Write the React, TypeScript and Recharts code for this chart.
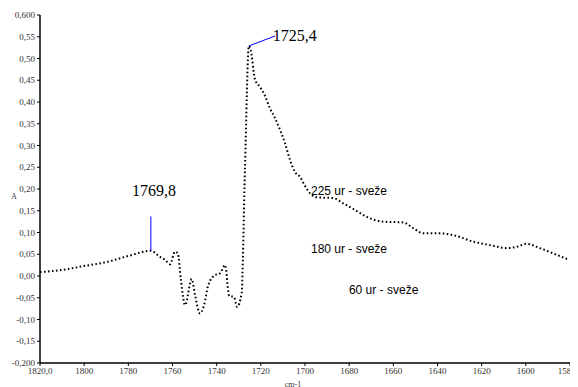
import { LineChart, Line, XAxis, YAxis, ReferenceLine, ReferenceDot } from 'recharts'

const wavenumbers = [
  1820, 1810, 1800, 1790, 1780, 1769.8, 1765.7, 1763.4, 1761.1, 1758.9, 1757.6, 1756.2, 1754.3,
  1751.3, 1749.8, 1747.6, 1745.7, 1743.8, 1740.8, 1738.5, 1736.2, 1734.3, 1732.2, 1730.7, 1728.7,
  1727.2, 1725.4, 1724.6, 1722.6, 1720.4, 1718.1, 1715.9, 1713.6, 1711.3, 1709.1, 1706.8, 1704.5,
  1702.3, 1700, 1697.7, 1694.7, 1687.2, 1682.7, 1677.4, 1672.1, 1664.6, 1655.5, 1651, 1646.4,
  1638.9, 1632.9, 1623.8, 1616.2, 1608.7, 1604.2, 1599.6, 1593.6, 1587.6, 1580.8,
]

const absorbance = [
  0.009, 0.014, 0.023, 0.032, 0.046, 0.058, 0.044, 0.037, 0.027, 0.056, 0.052, -0.009, -0.067,
  -0.007, -0.044, -0.086, -0.067, -0.021, 0.002, 0.006, 0.025, -0.046, -0.048, -0.071, -0.039,
  0.244, 0.529, 0.52, 0.451, 0.435, 0.414, 0.386, 0.363, 0.336, 0.306, 0.267, 0.239,
  0.228, 0.207, 0.19, 0.181, 0.179, 0.167, 0.152, 0.136, 0.125, 0.123, 0.11, 0.098,
  0.098, 0.094, 0.079, 0.071, 0.064, 0.067, 0.074, 0.064, 0.052, 0.038,
]

const xTicks = [1820, 1800, 1780, 1760, 1740, 1720, 1700, 1680, 1660, 1640, 1620, 1600, 1580]
const yTicks = [-0.2, -0.15, -0.1, -0.05, 0, 0.05, 0.1, 0.15, 0.2, 0.25, 0.3, 0.35, 0.4, 0.45, 0.5, 0.55, 0.6]

const sampleLabels = [
  { text: '225 ur - sveže', x: 1697.3, y: 0.195 },
  { text: '180 ur - sveže', x: 1697.3, y: 0.062 },
  { text: '60 ur - sveže', x: 1680.1, y: -0.032 },
]

const data = wavenumbers.map((w, i) => ({ w, a: absorbance[i] }))

const serif = '"Liberation Serif", "Times New Roman", serif'
const sans = '"Liberation Sans", Arial, sans-serif'

const fmtX = (v: number) => (v === 1820 || v === 1580 ? v.toFixed(1).replace('.', ',') : String(v))
const fmtY = (v: number) =>
  (v === 0.6 || v === -0.2 ? v.toFixed(3) : v.toFixed(2)).replace('.', ',')

export default function App() {
  return (
    <div style={{ position: 'relative', width: 570, height: 379, fontFamily: serif }}>
      <LineChart
        width={570}
        height={379}
        data={data}
        margin={{ top: 7, right: 8, bottom: 4, left: 0 }}
        style={{ overflow: 'visible', fontFamily: serif }}
      >
        <XAxis
          dataKey="w"
          type="number"
          domain={[1580, 1820]}
          reversed
          ticks={xTicks}
          tickFormatter={fmtX}
          interval={0}
          height={20}
          tickSize={3}
          axisLine={{ stroke: '#000', strokeWidth: 1.5 }}
          tickLine={{ stroke: '#000' }}
          tick={{ fontFamily: serif, fontSize: 9, fill: '#333' }}
          label={{ value: 'cm-1', position: 'insideBottom', offset: -4, dx: -12, fontFamily: serif, fontSize: 8, fill: '#333' }}
        />
        <YAxis
          type="number"
          domain={[-0.2, 0.6]}
          ticks={yTicks}
          tickFormatter={fmtY}
          interval={0}
          width={32}
          tickSize={3}
          axisLine={{ stroke: '#000', strokeWidth: 1.5 }}
          tickLine={{ stroke: '#000' }}
          tick={{ fontFamily: serif, fontSize: 9, fill: '#333' }}
          label={{ value: 'A', position: 'insideLeft', angle: 0, offset: 0, dx: 3, dy: 7, fontFamily: serif, fontSize: 8, fill: '#333' }}
        />
        <Line
          dataKey="a"
          type="monotone"
          stroke="#000"
          strokeWidth={2}
          strokeDasharray="1.6 2.4"
          dot={false}
          isAnimationActive={false}
        />
        <ReferenceLine
          segment={[{ x: 1769.8, y: 0.058 }, { x: 1769.8, y: 0.137 }]}
          stroke="#0000ff"
          strokeWidth={1}
        />
        <ReferenceLine
          segment={[{ x: 1725.4, y: 0.529 }, { x: 1713.4, y: 0.552 }]}
          stroke="#0000ff"
          strokeWidth={1}
        />
        <ReferenceDot
          x={1768.4}
          y={0.197}
          r={0}
          label={{ value: '1769,8', position: 'center', fontFamily: serif, fontSize: 16, fill: '#000' }}
        />
        <ReferenceDot
          x={1714.6}
          y={0.553}
          r={0}
          label={{ value: '1725,4', position: 'right', offset: 0, fontFamily: serif, fontSize: 16, fill: '#000' }}
        />
        {sampleLabels.map((l) => (
          <ReferenceDot
            key={l.text}
            x={l.x}
            y={l.y}
            r={0}
            label={{ value: l.text, position: 'right', offset: 0, fontFamily: sans, fontSize: 12, fill: '#000' }}
          />
        ))}
      </LineChart>
    </div>
  )
}
